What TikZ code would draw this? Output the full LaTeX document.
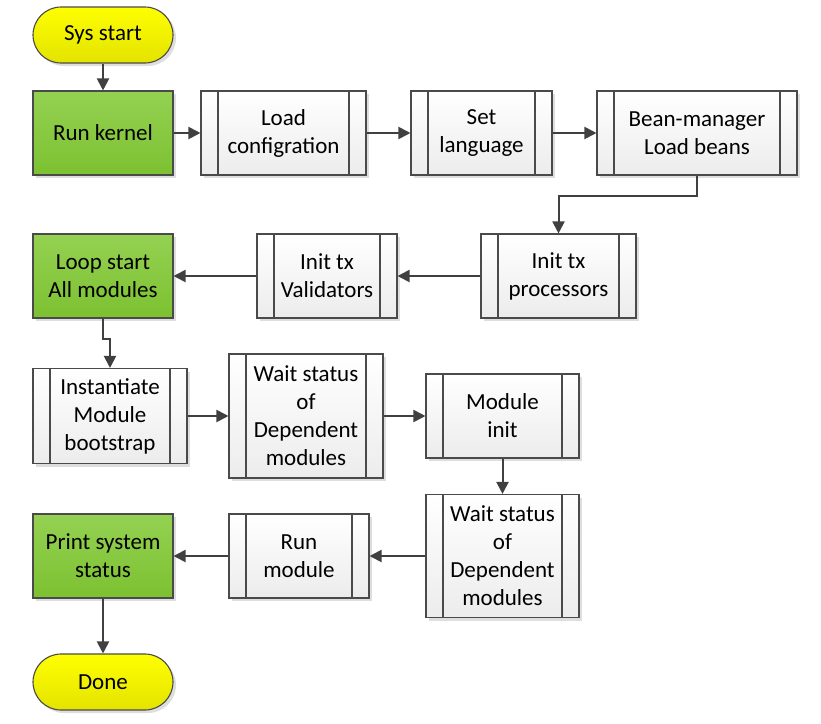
\documentclass[tikz,border=0pt]{standalone}
\usepackage{fontspec}
\setmainfont{Carlito}
\usetikzlibrary{arrows.meta,shadows}
\definecolor{boxline}{HTML}{4A4A4A}
\definecolor{arrowc}{HTML}{404040}
\definecolor{ytop}{HTML}{FFFF00}
\definecolor{ybot}{HTML}{E3E300}
\definecolor{gtop}{HTML}{94D152}
\definecolor{gbot}{HTML}{7CC131}
\definecolor{ptop}{HTML}{FFFFFF}
\definecolor{pbot}{HTML}{ECECEC}
\tikzset{
  sz/.style 2 args={minimum width=#1pt, minimum height=#2pt},
  basebox/.style={draw=boxline, line width=1.1pt, align=center, inner sep=0pt,
    font=\fontsize{23}{28}\selectfont,
    drop shadow={shadow xshift=3pt, shadow yshift=-3pt, fill=black!13, opacity=1}},
  terminal/.style={basebox, rounded corners=28pt, top color=ytop, bottom color=ybot, sz={140}{56}},
  greenbox/.style={basebox, top color=gtop, bottom color=gbot},
  predef/.style={basebox, top color=ptop, bottom color=pbot,
    path picture={
      \draw[boxline, line width=1.1pt]
        ([xshift=17pt]path picture bounding box.north west) -- ([xshift=17pt]path picture bounding box.south west)
        ([xshift=-17pt]path picture bounding box.north east) -- ([xshift=-17pt]path picture bounding box.south east);
    }},
  conn/.style={draw=arrowc, line width=2pt, -{Triangle[length=12pt,width=12pt]}}
}
\begin{document}
\begin{tikzpicture}[x=1pt,y=-1pt]
\useasboundingbox (0,0) rectangle (821,723);

\node[terminal] (start) at (103,35) {Sys start};
\node[greenbox, sz={140}{84}] (kernel) at (103,133) {Run kernel};
\node[predef, sz={165}{84}] (config) at (283.5,133) {Load\\configration};
\node[predef, sz={141}{84}] (lang) at (481.5,133) {Set\\language};
\node[predef, sz={200}{84}] (bean) at (697,133) {Bean-manager\\Load beans};

\node[predef, sz={155}{84}] (txproc) at (558.5,276) {Init tx\\processors};
\node[predef, sz={140}{84}] (txval) at (327,276) {Init tx\\Validators};
\node[greenbox, sz={140}{84}] (loop) at (103,276) {Loop start\\All modules};

\node[predef, sz={154}{95}] (inst) at (110,416) {Instantiate\\Module\\bootstrap};
\node[predef, sz={154}{124}] (waitA) at (306,416) {Wait status\\of\\Dependent\\modules};
\node[predef, sz={153}{84}] (minit) at (502.5,416) {Module\\init};

\node[predef, sz={153}{123}] (waitB) at (502.5,556) {Wait status\\of\\Dependent\\modules};
\node[predef, sz={140}{84}] (runm) at (299,556) {Run\\module};
\node[greenbox, sz={140}{84}] (print) at (103,556) {Print system\\status};
\node[terminal] (done) at (103,682) {Done};

\draw[conn] (start) -- (kernel);
\draw[conn] (kernel) -- (config);
\draw[conn] (config) -- (lang);
\draw[conn] (lang) -- (bean);
\draw[conn] (bean.south) -- ++(0,20) -| (txproc.north);
\draw[conn] (txproc) -- (txval);
\draw[conn] (txval) -- (loop);
\draw[conn] (loop.south) -- ++(0,20) -| (inst.north);
\draw[conn] (inst) -- (waitA);
\draw[conn] (waitA) -- (minit);
\draw[conn] (minit) -- (waitB);
\draw[conn] (waitB) -- (runm);
\draw[conn] (runm) -- (print);
\draw[conn] (print) -- (done);
\end{tikzpicture}
\end{document}
